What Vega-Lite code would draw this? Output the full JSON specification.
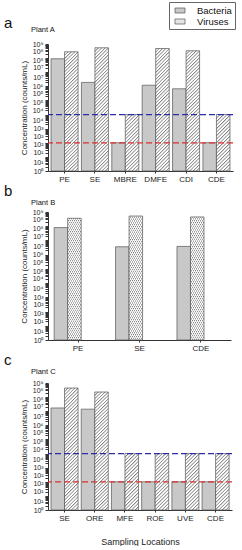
{
"$schema": "https://vega.github.io/schema/vega-lite/v6.json",
"background": "white",
"padding": {"left": 4, "top": 1, "right": 0, "bottom": 0},
"spacing": 0,
"config": {
  "font": "Liberation Sans",
  "view": {"stroke": null},
  "title": {"font": "Liberation Sans", "fontWeight": "normal", "color": "#111"},
  "axis": {"domainColor": "#333", "tickColor": "#333", "labelColor": "#222", "titleColor": "#222", "labelFont": "Liberation Sans", "titleFont": "Liberation Sans", "titleFontWeight": "normal", "grid": false, "tickSize": 3, "domainWidth": 1},
  "axisY": {"values": [1, 10, 100, 1000, 10000, 100000, 1000000, 10000000, 100000000, 1000000000], "labelExpr": "'10' + ['⁰','¹','²','³','⁴','⁵','⁶','⁷','⁸','⁹'][round(log(datum.value)/LN10)]", "labelFontSize": 7, "titleFontSize": 8, "titlePadding": 4, "labelPadding": 2},
  "axisX": {"labelAngle": 0, "labelFontSize": 8, "bandPosition": 0.5, "tickSize": 2, "labelPadding": 2}
},
"datasets": {
  "a": [
    {"location": "PE", "organism": "Bacteria", "count": 90000000},
    {"location": "PE", "organism": "Viruses", "count": 280000000},
    {"location": "SE", "organism": "Bacteria", "count": 1900000},
    {"location": "SE", "organism": "Viruses", "count": 540000000},
    {"location": "MBRE", "organism": "Bacteria", "count": 100},
    {"location": "MBRE", "organism": "Viruses", "count": 10000},
    {"location": "DMFE", "organism": "Bacteria", "count": 1200000},
    {"location": "DMFE", "organism": "Viruses", "count": 480000000},
    {"location": "CDI", "organism": "Bacteria", "count": 670000},
    {"location": "CDI", "organism": "Viruses", "count": 330000000},
    {"location": "CDE", "organism": "Bacteria", "count": 100},
    {"location": "CDE", "organism": "Viruses", "count": 10000}
  ],
  "b": [
    {"location": "PE", "organism": "Bacteria", "count": 80000000},
    {"location": "PE", "organism": "Viruses", "count": 360000000},
    {"location": "SE", "organism": "Bacteria", "count": 3600000},
    {"location": "SE", "organism": "Viruses", "count": 520000000},
    {"location": "CDE", "organism": "Bacteria", "count": 3800000},
    {"location": "CDE", "organism": "Viruses", "count": 450000000}
  ],
  "c": [
    {"location": "SE", "organism": "Bacteria", "count": 17000000},
    {"location": "SE", "organism": "Viruses", "count": 440000000},
    {"location": "ORE", "organism": "Bacteria", "count": 14000000},
    {"location": "ORE", "organism": "Viruses", "count": 230000000},
    {"location": "MFE", "organism": "Bacteria", "count": 100},
    {"location": "MFE", "organism": "Viruses", "count": 10000},
    {"location": "ROE", "organism": "Bacteria", "count": 100},
    {"location": "ROE", "organism": "Viruses", "count": 10000},
    {"location": "UVE", "organism": "Bacteria", "count": 100},
    {"location": "UVE", "organism": "Viruses", "count": 10000},
    {"location": "CDE", "organism": "Bacteria", "count": 100},
    {"location": "CDE", "organism": "Viruses", "count": 10000}
  ]
},
"vconcat": [
  {
    "title": {"text": "a", "anchor": "start", "frame": "group", "fontSize": 15, "dx": -44, "offset": -5},
    "vconcat": [{
      "width": 185, "height": 127,
      "title": {"text": "Plant A", "anchor": "start", "frame": "group", "fontSize": 7.5, "dx": -17, "offset": 7},
      "data": {"name": "a"},
      "layer": [
        {
          "transform": [{"filter": "datum.organism === 'Bacteria'"}],
          "mark": {"type": "bar", "stroke": "#555", "strokeWidth": 0.7},
          "encoding": {
            "x": {"field": "location", "type": "nominal", "scale": {"domain": ["PE", "SE", "MBRE", "DMFE", "CDI", "CDE"], "paddingInner": 0.11, "paddingOuter": 0.1}, "axis": {"title": null}},
            "xOffset": {"field": "organism", "type": "nominal", "scale": {"domain": ["Bacteria", "Viruses"]}},
            "y": {"field": "count", "type": "quantitative", "scale": {"type": "log", "domain": [1, 1000000000]}, "axis": {"title": "Concentration (counts/mL)"}},
            "y2": {"datum": 1},
            "color": {"field": "organism", "type": "nominal", "scale": {"domain": ["Bacteria", "Viruses"], "range": ["#c8c8c8", "#e6e6e6"]},
              "legend": {"orient": "none", "legendX": 121, "legendY": -42, "title": null, "strokeColor": "#666", "padding": 3, "symbolType": "M-0.5,-0.5H1.5V0.5H-0.5Z", "symbolSize": 100, "symbolStrokeColor": "#555", "symbolStrokeWidth": 0.7, "symbolOpacity": 1, "labelFontSize": 9.5, "labelColor": "#111", "rowPadding": 1, "labelOffset": 14}}
          }
        },
        {
          "transform": [{"filter": "datum.organism === 'Viruses' && datum.count > 1000000"}],
          "mark": {"type": "bar", "stroke": "#555", "strokeWidth": 0.7, "fill": {"gradient": "linear", "x1": 0, "y1": 0, "x2": 0.122, "y2": 1.098, "stops": [
            {"offset": 0, "color": "#808080"}, {"offset": 0.01, "color": "#fff"}, {"offset": 0.019, "color": "#fff"},
            {"offset": 0.025, "color": "#808080"}, {"offset": 0.035, "color": "#fff"}, {"offset": 0.044, "color": "#fff"},
            {"offset": 0.05, "color": "#808080"}, {"offset": 0.06, "color": "#fff"}, {"offset": 0.069, "color": "#fff"},
            {"offset": 0.075, "color": "#808080"}, {"offset": 0.085, "color": "#fff"}, {"offset": 0.094, "color": "#fff"},
            {"offset": 0.1, "color": "#808080"}, {"offset": 0.11, "color": "#fff"}, {"offset": 0.119, "color": "#fff"},
            {"offset": 0.125, "color": "#808080"}, {"offset": 0.135, "color": "#fff"}, {"offset": 0.144, "color": "#fff"},
            {"offset": 0.15, "color": "#808080"}, {"offset": 0.16, "color": "#fff"}, {"offset": 0.169, "color": "#fff"},
            {"offset": 0.175, "color": "#808080"}, {"offset": 0.185, "color": "#fff"}, {"offset": 0.194, "color": "#fff"},
            {"offset": 0.2, "color": "#808080"}, {"offset": 0.21, "color": "#fff"}, {"offset": 0.219, "color": "#fff"},
            {"offset": 0.225, "color": "#808080"}, {"offset": 0.235, "color": "#fff"}, {"offset": 0.244, "color": "#fff"},
            {"offset": 0.25, "color": "#808080"}, {"offset": 0.26, "color": "#fff"}, {"offset": 0.269, "color": "#fff"},
            {"offset": 0.275, "color": "#808080"}, {"offset": 0.285, "color": "#fff"}, {"offset": 0.294, "color": "#fff"},
            {"offset": 0.3, "color": "#808080"}, {"offset": 0.31, "color": "#fff"}, {"offset": 0.319, "color": "#fff"},
            {"offset": 0.325, "color": "#808080"}, {"offset": 0.335, "color": "#fff"}, {"offset": 0.344, "color": "#fff"},
            {"offset": 0.35, "color": "#808080"}, {"offset": 0.36, "color": "#fff"}, {"offset": 0.369, "color": "#fff"},
            {"offset": 0.375, "color": "#808080"}, {"offset": 0.385, "color": "#fff"}, {"offset": 0.394, "color": "#fff"},
            {"offset": 0.4, "color": "#808080"}, {"offset": 0.41, "color": "#fff"}, {"offset": 0.419, "color": "#fff"},
            {"offset": 0.425, "color": "#808080"}, {"offset": 0.435, "color": "#fff"}, {"offset": 0.444, "color": "#fff"},
            {"offset": 0.45, "color": "#808080"}, {"offset": 0.46, "color": "#fff"}, {"offset": 0.469, "color": "#fff"},
            {"offset": 0.475, "color": "#808080"}, {"offset": 0.485, "color": "#fff"}, {"offset": 0.494, "color": "#fff"},
            {"offset": 0.5, "color": "#808080"}, {"offset": 0.51, "color": "#fff"}, {"offset": 0.519, "color": "#fff"},
            {"offset": 0.525, "color": "#808080"}, {"offset": 0.535, "color": "#fff"}, {"offset": 0.544, "color": "#fff"},
            {"offset": 0.55, "color": "#808080"}, {"offset": 0.56, "color": "#fff"}, {"offset": 0.569, "color": "#fff"},
            {"offset": 0.575, "color": "#808080"}, {"offset": 0.585, "color": "#fff"}, {"offset": 0.594, "color": "#fff"},
            {"offset": 0.6, "color": "#808080"}, {"offset": 0.61, "color": "#fff"}, {"offset": 0.619, "color": "#fff"},
            {"offset": 0.625, "color": "#808080"}, {"offset": 0.635, "color": "#fff"}, {"offset": 0.644, "color": "#fff"},
            {"offset": 0.65, "color": "#808080"}, {"offset": 0.66, "color": "#fff"}, {"offset": 0.669, "color": "#fff"},
            {"offset": 0.675, "color": "#808080"}, {"offset": 0.685, "color": "#fff"}, {"offset": 0.694, "color": "#fff"},
            {"offset": 0.7, "color": "#808080"}, {"offset": 0.71, "color": "#fff"}, {"offset": 0.719, "color": "#fff"},
            {"offset": 0.725, "color": "#808080"}, {"offset": 0.735, "color": "#fff"}, {"offset": 0.744, "color": "#fff"},
            {"offset": 0.75, "color": "#808080"}, {"offset": 0.76, "color": "#fff"}, {"offset": 0.769, "color": "#fff"},
            {"offset": 0.775, "color": "#808080"}, {"offset": 0.785, "color": "#fff"}, {"offset": 0.794, "color": "#fff"},
            {"offset": 0.8, "color": "#808080"}, {"offset": 0.81, "color": "#fff"}, {"offset": 0.819, "color": "#fff"},
            {"offset": 0.825, "color": "#808080"}, {"offset": 0.835, "color": "#fff"}, {"offset": 0.844, "color": "#fff"},
            {"offset": 0.85, "color": "#808080"}, {"offset": 0.86, "color": "#fff"}, {"offset": 0.869, "color": "#fff"},
            {"offset": 0.875, "color": "#808080"}, {"offset": 0.885, "color": "#fff"}, {"offset": 0.894, "color": "#fff"},
            {"offset": 0.9, "color": "#808080"}, {"offset": 0.91, "color": "#fff"}, {"offset": 0.919, "color": "#fff"},
            {"offset": 0.925, "color": "#808080"}, {"offset": 0.935, "color": "#fff"}, {"offset": 0.944, "color": "#fff"},
            {"offset": 0.95, "color": "#808080"}, {"offset": 0.96, "color": "#fff"}, {"offset": 0.969, "color": "#fff"},
            {"offset": 0.975, "color": "#808080"}, {"offset": 0.985, "color": "#fff"}, {"offset": 0.994, "color": "#fff"},
            {"offset": 1, "color": "#808080"}]}},
          "encoding": {
            "x": {"field": "location", "type": "nominal", "scale": {"domain": ["PE", "SE", "MBRE", "DMFE", "CDI", "CDE"]}},
            "xOffset": {"field": "organism", "type": "nominal", "scale": {"domain": ["Bacteria", "Viruses"]}},
            "y": {"field": "count", "type": "quantitative", "scale": {"type": "log", "domain": [1, 1000000000]}},
            "y2": {"datum": 1}
          }
        },
        {
          "transform": [{"filter": "datum.organism === 'Viruses' && datum.count <= 1000000"}],
          "mark": {"type": "bar", "stroke": "#555", "strokeWidth": 0.7, "fill": {"gradient": "linear", "x1": 0, "y1": 0, "x2": 0.28, "y2": 1.172, "stops": [
            {"offset": 0, "color": "#808080"}, {"offset": 0.02, "color": "#fff"}, {"offset": 0.038, "color": "#fff"},
            {"offset": 0.05, "color": "#808080"}, {"offset": 0.07, "color": "#fff"}, {"offset": 0.088, "color": "#fff"},
            {"offset": 0.1, "color": "#808080"}, {"offset": 0.12, "color": "#fff"}, {"offset": 0.138, "color": "#fff"},
            {"offset": 0.15, "color": "#808080"}, {"offset": 0.17, "color": "#fff"}, {"offset": 0.188, "color": "#fff"},
            {"offset": 0.2, "color": "#808080"}, {"offset": 0.22, "color": "#fff"}, {"offset": 0.238, "color": "#fff"},
            {"offset": 0.25, "color": "#808080"}, {"offset": 0.27, "color": "#fff"}, {"offset": 0.288, "color": "#fff"},
            {"offset": 0.3, "color": "#808080"}, {"offset": 0.32, "color": "#fff"}, {"offset": 0.338, "color": "#fff"},
            {"offset": 0.35, "color": "#808080"}, {"offset": 0.37, "color": "#fff"}, {"offset": 0.388, "color": "#fff"},
            {"offset": 0.4, "color": "#808080"}, {"offset": 0.42, "color": "#fff"}, {"offset": 0.438, "color": "#fff"},
            {"offset": 0.45, "color": "#808080"}, {"offset": 0.47, "color": "#fff"}, {"offset": 0.488, "color": "#fff"},
            {"offset": 0.5, "color": "#808080"}, {"offset": 0.52, "color": "#fff"}, {"offset": 0.538, "color": "#fff"},
            {"offset": 0.55, "color": "#808080"}, {"offset": 0.57, "color": "#fff"}, {"offset": 0.588, "color": "#fff"},
            {"offset": 0.6, "color": "#808080"}, {"offset": 0.62, "color": "#fff"}, {"offset": 0.638, "color": "#fff"},
            {"offset": 0.65, "color": "#808080"}, {"offset": 0.67, "color": "#fff"}, {"offset": 0.688, "color": "#fff"},
            {"offset": 0.7, "color": "#808080"}, {"offset": 0.72, "color": "#fff"}, {"offset": 0.738, "color": "#fff"},
            {"offset": 0.75, "color": "#808080"}, {"offset": 0.77, "color": "#fff"}, {"offset": 0.788, "color": "#fff"},
            {"offset": 0.8, "color": "#808080"}, {"offset": 0.82, "color": "#fff"}, {"offset": 0.838, "color": "#fff"},
            {"offset": 0.85, "color": "#808080"}, {"offset": 0.87, "color": "#fff"}, {"offset": 0.888, "color": "#fff"},
            {"offset": 0.9, "color": "#808080"}, {"offset": 0.92, "color": "#fff"}, {"offset": 0.938, "color": "#fff"},
            {"offset": 0.95, "color": "#808080"}, {"offset": 0.97, "color": "#fff"}, {"offset": 0.988, "color": "#fff"},
            {"offset": 1, "color": "#808080"}]}},
          "encoding": {
            "x": {"field": "location", "type": "nominal", "scale": {"domain": ["PE", "SE", "MBRE", "DMFE", "CDI", "CDE"]}},
            "xOffset": {"field": "organism", "type": "nominal", "scale": {"domain": ["Bacteria", "Viruses"]}},
            "y": {"field": "count", "type": "quantitative", "scale": {"type": "log", "domain": [1, 1000000000]}},
            "y2": {"datum": 1}
          }
        },
        {
          "data": {"values": [{"limit": "virus detection limit"}]},
          "mark": {"type": "rule", "color": "#2c2ca8", "strokeDash": [6, 3], "strokeWidth": 1.2},
          "encoding": {"y": {"datum": 10000}}
        },
        {
          "data": {"values": [{"limit": "bacteria detection limit"}]},
          "mark": {"type": "rule", "color": "#d83030", "strokeDash": [6, 3], "strokeWidth": 1.2},
          "encoding": {"y": {"datum": 100}}
        }
      ]
    }]
  },
  {
    "title": {"text": "b", "anchor": "start", "frame": "group", "fontSize": 15, "dx": -44, "offset": 0},
    "vconcat": [{
      "width": 183, "height": 128,
      "title": {"text": "Plant B", "anchor": "start", "frame": "group", "fontSize": 7.5, "dx": -17, "offset": 2},
      "data": {"name": "b"},
      "layer": [
        {
          "transform": [{"filter": "datum.organism === 'Bacteria'"}],
          "mark": {"type": "bar", "stroke": "#555", "strokeWidth": 0.7},
          "encoding": {
            "x": {"field": "location", "type": "nominal", "scale": {"domain": ["PE", "SE", "CDE"], "paddingInner": 0.22, "paddingOuter": 0.1}, "axis": {"title": null}},
            "xOffset": {"field": "organism", "type": "nominal", "scale": {"domain": ["Bacteria", "Viruses"]}},
            "y": {"field": "count", "type": "quantitative", "scale": {"type": "log", "domain": [1, 1000000000]}, "axis": {"title": "Concentration (counts/mL)"}},
            "y2": {"datum": 1},
            "color": {"field": "organism", "type": "nominal", "scale": {"domain": ["Bacteria", "Viruses"], "range": ["#c8c8c8", "#e6e6e6"]}}
          }
        },
        {
          "transform": [{"filter": "datum.organism === 'Viruses'"}],
          "mark": {"type": "bar", "stroke": "#555", "strokeWidth": 0.7, "fill": {"gradient": "linear", "x1": 0, "y1": 0, "x2": 0.234, "y2": 1.155, "stops": [
            {"offset": 0, "color": "#808080"}, {"offset": 0.01, "color": "#fff"}, {"offset": 0.019, "color": "#fff"},
            {"offset": 0.025, "color": "#808080"}, {"offset": 0.035, "color": "#fff"}, {"offset": 0.044, "color": "#fff"},
            {"offset": 0.05, "color": "#808080"}, {"offset": 0.06, "color": "#fff"}, {"offset": 0.069, "color": "#fff"},
            {"offset": 0.075, "color": "#808080"}, {"offset": 0.085, "color": "#fff"}, {"offset": 0.094, "color": "#fff"},
            {"offset": 0.1, "color": "#808080"}, {"offset": 0.11, "color": "#fff"}, {"offset": 0.119, "color": "#fff"},
            {"offset": 0.125, "color": "#808080"}, {"offset": 0.135, "color": "#fff"}, {"offset": 0.144, "color": "#fff"},
            {"offset": 0.15, "color": "#808080"}, {"offset": 0.16, "color": "#fff"}, {"offset": 0.169, "color": "#fff"},
            {"offset": 0.175, "color": "#808080"}, {"offset": 0.185, "color": "#fff"}, {"offset": 0.194, "color": "#fff"},
            {"offset": 0.2, "color": "#808080"}, {"offset": 0.21, "color": "#fff"}, {"offset": 0.219, "color": "#fff"},
            {"offset": 0.225, "color": "#808080"}, {"offset": 0.235, "color": "#fff"}, {"offset": 0.244, "color": "#fff"},
            {"offset": 0.25, "color": "#808080"}, {"offset": 0.26, "color": "#fff"}, {"offset": 0.269, "color": "#fff"},
            {"offset": 0.275, "color": "#808080"}, {"offset": 0.285, "color": "#fff"}, {"offset": 0.294, "color": "#fff"},
            {"offset": 0.3, "color": "#808080"}, {"offset": 0.31, "color": "#fff"}, {"offset": 0.319, "color": "#fff"},
            {"offset": 0.325, "color": "#808080"}, {"offset": 0.335, "color": "#fff"}, {"offset": 0.344, "color": "#fff"},
            {"offset": 0.35, "color": "#808080"}, {"offset": 0.36, "color": "#fff"}, {"offset": 0.369, "color": "#fff"},
            {"offset": 0.375, "color": "#808080"}, {"offset": 0.385, "color": "#fff"}, {"offset": 0.394, "color": "#fff"},
            {"offset": 0.4, "color": "#808080"}, {"offset": 0.41, "color": "#fff"}, {"offset": 0.419, "color": "#fff"},
            {"offset": 0.425, "color": "#808080"}, {"offset": 0.435, "color": "#fff"}, {"offset": 0.444, "color": "#fff"},
            {"offset": 0.45, "color": "#808080"}, {"offset": 0.46, "color": "#fff"}, {"offset": 0.469, "color": "#fff"},
            {"offset": 0.475, "color": "#808080"}, {"offset": 0.485, "color": "#fff"}, {"offset": 0.494, "color": "#fff"},
            {"offset": 0.5, "color": "#808080"}, {"offset": 0.51, "color": "#fff"}, {"offset": 0.519, "color": "#fff"},
            {"offset": 0.525, "color": "#808080"}, {"offset": 0.535, "color": "#fff"}, {"offset": 0.544, "color": "#fff"},
            {"offset": 0.55, "color": "#808080"}, {"offset": 0.56, "color": "#fff"}, {"offset": 0.569, "color": "#fff"},
            {"offset": 0.575, "color": "#808080"}, {"offset": 0.585, "color": "#fff"}, {"offset": 0.594, "color": "#fff"},
            {"offset": 0.6, "color": "#808080"}, {"offset": 0.61, "color": "#fff"}, {"offset": 0.619, "color": "#fff"},
            {"offset": 0.625, "color": "#808080"}, {"offset": 0.635, "color": "#fff"}, {"offset": 0.644, "color": "#fff"},
            {"offset": 0.65, "color": "#808080"}, {"offset": 0.66, "color": "#fff"}, {"offset": 0.669, "color": "#fff"},
            {"offset": 0.675, "color": "#808080"}, {"offset": 0.685, "color": "#fff"}, {"offset": 0.694, "color": "#fff"},
            {"offset": 0.7, "color": "#808080"}, {"offset": 0.71, "color": "#fff"}, {"offset": 0.719, "color": "#fff"},
            {"offset": 0.725, "color": "#808080"}, {"offset": 0.735, "color": "#fff"}, {"offset": 0.744, "color": "#fff"},
            {"offset": 0.75, "color": "#808080"}, {"offset": 0.76, "color": "#fff"}, {"offset": 0.769, "color": "#fff"},
            {"offset": 0.775, "color": "#808080"}, {"offset": 0.785, "color": "#fff"}, {"offset": 0.794, "color": "#fff"},
            {"offset": 0.8, "color": "#808080"}, {"offset": 0.81, "color": "#fff"}, {"offset": 0.819, "color": "#fff"},
            {"offset": 0.825, "color": "#808080"}, {"offset": 0.835, "color": "#fff"}, {"offset": 0.844, "color": "#fff"},
            {"offset": 0.85, "color": "#808080"}, {"offset": 0.86, "color": "#fff"}, {"offset": 0.869, "color": "#fff"},
            {"offset": 0.875, "color": "#808080"}, {"offset": 0.885, "color": "#fff"}, {"offset": 0.894, "color": "#fff"},
            {"offset": 0.9, "color": "#808080"}, {"offset": 0.91, "color": "#fff"}, {"offset": 0.919, "color": "#fff"},
            {"offset": 0.925, "color": "#808080"}, {"offset": 0.935, "color": "#fff"}, {"offset": 0.944, "color": "#fff"},
            {"offset": 0.95, "color": "#808080"}, {"offset": 0.96, "color": "#fff"}, {"offset": 0.969, "color": "#fff"},
            {"offset": 0.975, "color": "#808080"}, {"offset": 0.985, "color": "#fff"}, {"offset": 0.994, "color": "#fff"},
            {"offset": 1, "color": "#808080"}]}},
          "encoding": {
            "x": {"field": "location", "type": "nominal", "scale": {"domain": ["PE", "SE", "CDE"]}},
            "xOffset": {"field": "organism", "type": "nominal", "scale": {"domain": ["Bacteria", "Viruses"]}},
            "y": {"field": "count", "type": "quantitative", "scale": {"type": "log", "domain": [1, 1000000000]}},
            "y2": {"datum": 1}
          }
        }
      ]
    }]
  },
  {
    "title": {"text": "c", "anchor": "start", "frame": "group", "fontSize": 15, "dx": -44, "offset": 0},
    "vconcat": [{
      "width": 184, "height": 127,
      "title": {"text": "Plant C", "anchor": "start", "frame": "group", "fontSize": 7.5, "dx": -17, "offset": 4},
      "data": {"name": "c"},
      "layer": [
        {
          "transform": [{"filter": "datum.organism === 'Bacteria'"}],
          "mark": {"type": "bar", "stroke": "#555", "strokeWidth": 0.7},
          "encoding": {
            "x": {"field": "location", "type": "nominal", "scale": {"domain": ["SE", "ORE", "MFE", "ROE", "UVE", "CDE"], "paddingInner": 0.11, "paddingOuter": 0.1}, "axis": {"title": "Sampling Locations", "titleFontSize": 9, "titlePadding": 15}},
            "xOffset": {"field": "organism", "type": "nominal", "scale": {"domain": ["Bacteria", "Viruses"]}},
            "y": {"field": "count", "type": "quantitative", "scale": {"type": "log", "domain": [1, 1000000000]}, "axis": {"title": "Concentration (counts/mL)"}},
            "y2": {"datum": 1},
            "color": {"field": "organism", "type": "nominal", "scale": {"domain": ["Bacteria", "Viruses"], "range": ["#c8c8c8", "#e6e6e6"]}}
          }
        },
        {
          "transform": [{"filter": "datum.organism === 'Viruses' && datum.count > 1000000"}],
          "mark": {"type": "bar", "stroke": "#555", "strokeWidth": 0.7, "fill": {"gradient": "linear", "x1": 0, "y1": 0, "x2": 0.122, "y2": 1.098, "stops": [
            {"offset": 0, "color": "#808080"}, {"offset": 0.01, "color": "#fff"}, {"offset": 0.019, "color": "#fff"},
            {"offset": 0.025, "color": "#808080"}, {"offset": 0.035, "color": "#fff"}, {"offset": 0.044, "color": "#fff"},
            {"offset": 0.05, "color": "#808080"}, {"offset": 0.06, "color": "#fff"}, {"offset": 0.069, "color": "#fff"},
            {"offset": 0.075, "color": "#808080"}, {"offset": 0.085, "color": "#fff"}, {"offset": 0.094, "color": "#fff"},
            {"offset": 0.1, "color": "#808080"}, {"offset": 0.11, "color": "#fff"}, {"offset": 0.119, "color": "#fff"},
            {"offset": 0.125, "color": "#808080"}, {"offset": 0.135, "color": "#fff"}, {"offset": 0.144, "color": "#fff"},
            {"offset": 0.15, "color": "#808080"}, {"offset": 0.16, "color": "#fff"}, {"offset": 0.169, "color": "#fff"},
            {"offset": 0.175, "color": "#808080"}, {"offset": 0.185, "color": "#fff"}, {"offset": 0.194, "color": "#fff"},
            {"offset": 0.2, "color": "#808080"}, {"offset": 0.21, "color": "#fff"}, {"offset": 0.219, "color": "#fff"},
            {"offset": 0.225, "color": "#808080"}, {"offset": 0.235, "color": "#fff"}, {"offset": 0.244, "color": "#fff"},
            {"offset": 0.25, "color": "#808080"}, {"offset": 0.26, "color": "#fff"}, {"offset": 0.269, "color": "#fff"},
            {"offset": 0.275, "color": "#808080"}, {"offset": 0.285, "color": "#fff"}, {"offset": 0.294, "color": "#fff"},
            {"offset": 0.3, "color": "#808080"}, {"offset": 0.31, "color": "#fff"}, {"offset": 0.319, "color": "#fff"},
            {"offset": 0.325, "color": "#808080"}, {"offset": 0.335, "color": "#fff"}, {"offset": 0.344, "color": "#fff"},
            {"offset": 0.35, "color": "#808080"}, {"offset": 0.36, "color": "#fff"}, {"offset": 0.369, "color": "#fff"},
            {"offset": 0.375, "color": "#808080"}, {"offset": 0.385, "color": "#fff"}, {"offset": 0.394, "color": "#fff"},
            {"offset": 0.4, "color": "#808080"}, {"offset": 0.41, "color": "#fff"}, {"offset": 0.419, "color": "#fff"},
            {"offset": 0.425, "color": "#808080"}, {"offset": 0.435, "color": "#fff"}, {"offset": 0.444, "color": "#fff"},
            {"offset": 0.45, "color": "#808080"}, {"offset": 0.46, "color": "#fff"}, {"offset": 0.469, "color": "#fff"},
            {"offset": 0.475, "color": "#808080"}, {"offset": 0.485, "color": "#fff"}, {"offset": 0.494, "color": "#fff"},
            {"offset": 0.5, "color": "#808080"}, {"offset": 0.51, "color": "#fff"}, {"offset": 0.519, "color": "#fff"},
            {"offset": 0.525, "color": "#808080"}, {"offset": 0.535, "color": "#fff"}, {"offset": 0.544, "color": "#fff"},
            {"offset": 0.55, "color": "#808080"}, {"offset": 0.56, "color": "#fff"}, {"offset": 0.569, "color": "#fff"},
            {"offset": 0.575, "color": "#808080"}, {"offset": 0.585, "color": "#fff"}, {"offset": 0.594, "color": "#fff"},
            {"offset": 0.6, "color": "#808080"}, {"offset": 0.61, "color": "#fff"}, {"offset": 0.619, "color": "#fff"},
            {"offset": 0.625, "color": "#808080"}, {"offset": 0.635, "color": "#fff"}, {"offset": 0.644, "color": "#fff"},
            {"offset": 0.65, "color": "#808080"}, {"offset": 0.66, "color": "#fff"}, {"offset": 0.669, "color": "#fff"},
            {"offset": 0.675, "color": "#808080"}, {"offset": 0.685, "color": "#fff"}, {"offset": 0.694, "color": "#fff"},
            {"offset": 0.7, "color": "#808080"}, {"offset": 0.71, "color": "#fff"}, {"offset": 0.719, "color": "#fff"},
            {"offset": 0.725, "color": "#808080"}, {"offset": 0.735, "color": "#fff"}, {"offset": 0.744, "color": "#fff"},
            {"offset": 0.75, "color": "#808080"}, {"offset": 0.76, "color": "#fff"}, {"offset": 0.769, "color": "#fff"},
            {"offset": 0.775, "color": "#808080"}, {"offset": 0.785, "color": "#fff"}, {"offset": 0.794, "color": "#fff"},
            {"offset": 0.8, "color": "#808080"}, {"offset": 0.81, "color": "#fff"}, {"offset": 0.819, "color": "#fff"},
            {"offset": 0.825, "color": "#808080"}, {"offset": 0.835, "color": "#fff"}, {"offset": 0.844, "color": "#fff"},
            {"offset": 0.85, "color": "#808080"}, {"offset": 0.86, "color": "#fff"}, {"offset": 0.869, "color": "#fff"},
            {"offset": 0.875, "color": "#808080"}, {"offset": 0.885, "color": "#fff"}, {"offset": 0.894, "color": "#fff"},
            {"offset": 0.9, "color": "#808080"}, {"offset": 0.91, "color": "#fff"}, {"offset": 0.919, "color": "#fff"},
            {"offset": 0.925, "color": "#808080"}, {"offset": 0.935, "color": "#fff"}, {"offset": 0.944, "color": "#fff"},
            {"offset": 0.95, "color": "#808080"}, {"offset": 0.96, "color": "#fff"}, {"offset": 0.969, "color": "#fff"},
            {"offset": 0.975, "color": "#808080"}, {"offset": 0.985, "color": "#fff"}, {"offset": 0.994, "color": "#fff"},
            {"offset": 1, "color": "#808080"}]}},
          "encoding": {
            "x": {"field": "location", "type": "nominal", "scale": {"domain": ["SE", "ORE", "MFE", "ROE", "UVE", "CDE"]}},
            "xOffset": {"field": "organism", "type": "nominal", "scale": {"domain": ["Bacteria", "Viruses"]}},
            "y": {"field": "count", "type": "quantitative", "scale": {"type": "log", "domain": [1, 1000000000]}},
            "y2": {"datum": 1}
          }
        },
        {
          "transform": [{"filter": "datum.organism === 'Viruses' && datum.count <= 1000000"}],
          "mark": {"type": "bar", "stroke": "#555", "strokeWidth": 0.7, "fill": {"gradient": "linear", "x1": 0, "y1": 0, "x2": 0.28, "y2": 1.172, "stops": [
            {"offset": 0, "color": "#808080"}, {"offset": 0.02, "color": "#fff"}, {"offset": 0.038, "color": "#fff"},
            {"offset": 0.05, "color": "#808080"}, {"offset": 0.07, "color": "#fff"}, {"offset": 0.088, "color": "#fff"},
            {"offset": 0.1, "color": "#808080"}, {"offset": 0.12, "color": "#fff"}, {"offset": 0.138, "color": "#fff"},
            {"offset": 0.15, "color": "#808080"}, {"offset": 0.17, "color": "#fff"}, {"offset": 0.188, "color": "#fff"},
            {"offset": 0.2, "color": "#808080"}, {"offset": 0.22, "color": "#fff"}, {"offset": 0.238, "color": "#fff"},
            {"offset": 0.25, "color": "#808080"}, {"offset": 0.27, "color": "#fff"}, {"offset": 0.288, "color": "#fff"},
            {"offset": 0.3, "color": "#808080"}, {"offset": 0.32, "color": "#fff"}, {"offset": 0.338, "color": "#fff"},
            {"offset": 0.35, "color": "#808080"}, {"offset": 0.37, "color": "#fff"}, {"offset": 0.388, "color": "#fff"},
            {"offset": 0.4, "color": "#808080"}, {"offset": 0.42, "color": "#fff"}, {"offset": 0.438, "color": "#fff"},
            {"offset": 0.45, "color": "#808080"}, {"offset": 0.47, "color": "#fff"}, {"offset": 0.488, "color": "#fff"},
            {"offset": 0.5, "color": "#808080"}, {"offset": 0.52, "color": "#fff"}, {"offset": 0.538, "color": "#fff"},
            {"offset": 0.55, "color": "#808080"}, {"offset": 0.57, "color": "#fff"}, {"offset": 0.588, "color": "#fff"},
            {"offset": 0.6, "color": "#808080"}, {"offset": 0.62, "color": "#fff"}, {"offset": 0.638, "color": "#fff"},
            {"offset": 0.65, "color": "#808080"}, {"offset": 0.67, "color": "#fff"}, {"offset": 0.688, "color": "#fff"},
            {"offset": 0.7, "color": "#808080"}, {"offset": 0.72, "color": "#fff"}, {"offset": 0.738, "color": "#fff"},
            {"offset": 0.75, "color": "#808080"}, {"offset": 0.77, "color": "#fff"}, {"offset": 0.788, "color": "#fff"},
            {"offset": 0.8, "color": "#808080"}, {"offset": 0.82, "color": "#fff"}, {"offset": 0.838, "color": "#fff"},
            {"offset": 0.85, "color": "#808080"}, {"offset": 0.87, "color": "#fff"}, {"offset": 0.888, "color": "#fff"},
            {"offset": 0.9, "color": "#808080"}, {"offset": 0.92, "color": "#fff"}, {"offset": 0.938, "color": "#fff"},
            {"offset": 0.95, "color": "#808080"}, {"offset": 0.97, "color": "#fff"}, {"offset": 0.988, "color": "#fff"},
            {"offset": 1, "color": "#808080"}]}},
          "encoding": {
            "x": {"field": "location", "type": "nominal", "scale": {"domain": ["SE", "ORE", "MFE", "ROE", "UVE", "CDE"]}},
            "xOffset": {"field": "organism", "type": "nominal", "scale": {"domain": ["Bacteria", "Viruses"]}},
            "y": {"field": "count", "type": "quantitative", "scale": {"type": "log", "domain": [1, 1000000000]}},
            "y2": {"datum": 1}
          }
        },
        {
          "data": {"values": [{"limit": "virus detection limit"}]},
          "mark": {"type": "rule", "color": "#2c2ca8", "strokeDash": [6, 3], "strokeWidth": 1.2},
          "encoding": {"y": {"datum": 10000}}
        },
        {
          "data": {"values": [{"limit": "bacteria detection limit"}]},
          "mark": {"type": "rule", "color": "#d83030", "strokeDash": [6, 3], "strokeWidth": 1.2},
          "encoding": {"y": {"datum": 100}}
        }
      ]
    }]
  }
]
}
